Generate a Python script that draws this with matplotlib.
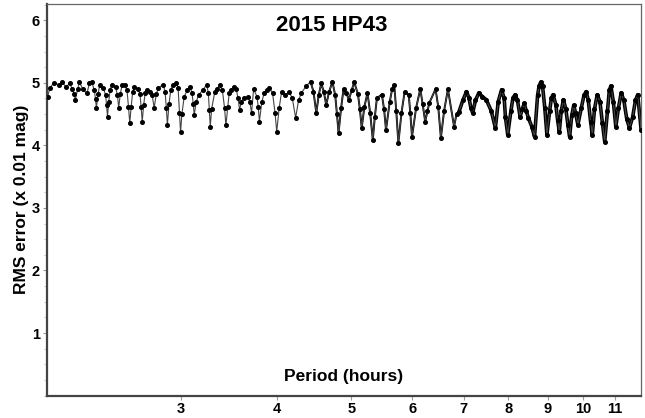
import matplotlib
matplotlib.use('Agg')
import matplotlib.pyplot as plt
from matplotlib.ticker import FixedLocator, NullLocator, MultipleLocator
import numpy as np

# period scan readings (hours, RMS x 0.01 mag) - peaks and dips
period = [2.016, 2.029, 2.054, 2.084, 2.105, 2.131, 2.152, 2.171, 2.190, 2.217,
          2.239, 2.267, 2.284, 2.301, 2.318, 2.332, 2.355, 2.382, 2.411, 2.441,
          2.471, 2.493, 2.518, 2.539, 2.577, 2.613, 2.642, 2.675, 2.711, 2.738,
          2.772, 2.807, 2.848, 2.884, 2.930, 2.963, 3.000, 3.033, 3.086, 3.125,
          3.167, 3.243, 3.279, 3.324, 3.373, 3.436, 3.492, 3.544, 3.579, 3.624,
          3.669, 3.710, 3.733, 3.770, 3.798, 3.854, 3.912, 4.000, 4.059, 4.151,
          4.233, 4.307, 4.426, 4.503, 4.570, 4.638, 4.725, 4.813, 4.885, 4.964,
          5.044, 5.158, 5.248, 5.332, 5.399, 5.479, 5.547, 5.686, 5.756, 5.864,
          5.937, 5.996, 6.146, 6.237, 6.315, 6.433, 6.537, 6.676, 6.800, 6.902,
          7.057, 7.189, 7.323, 7.488, 7.694, 7.838, 7.984, 8.163, 8.285, 8.388,
          8.492, 8.651, 8.813, 8.977, 9.145, 9.316, 9.432, 9.608, 9.727, 9.848,
          10.094, 10.283, 10.436, 10.671, 10.870, 11.032, 11.211, 11.491, 11.778, 11.90]
rms = [4.78, 4.92, 5.00, 4.97, 5.01, 4.93, 4.99, 4.90, 4.73, 5.01,
       4.90, 4.83, 4.99, 5.01, 4.88, 4.60, 4.96, 4.91, 4.46, 4.97,
       4.93, 4.60, 4.96, 4.96, 4.36, 4.93, 4.90, 4.38, 4.89, 4.85,
       4.60, 4.92, 4.97, 4.33, 4.96, 5.00, 4.21, 4.78, 4.93, 4.49,
       4.81, 4.97, 4.30, 4.86, 4.97, 4.32, 4.89, 4.90, 4.57, 4.76,
       4.78, 4.52, 4.90, 4.78, 4.38, 4.84, 4.92, 4.22, 4.86, 4.85,
       4.44, 4.84, 5.02, 4.52, 4.99, 4.65, 5.02, 4.20, 4.90, 4.73,
       5.01, 4.28, 4.84, 4.09, 4.76, 4.81, 4.25, 4.96, 4.04, 4.85,
       4.81, 4.14, 4.90, 4.38, 4.68, 4.90, 4.12, 4.90, 4.30, 4.54,
       4.86, 4.52, 4.84, 4.73, 4.28, 4.89, 4.17, 4.81, 4.46, 4.67,
       4.44, 4.14, 5.01, 4.17, 4.81, 4.22, 4.73, 4.14, 4.64, 4.33,
       4.86, 4.17, 4.81, 4.06, 4.95, 4.30, 4.84, 4.28, 4.81, 4.25]

# extra readings on the flanks of the dips
period_extra = [2.181, 2.205, 2.326, 2.344, 2.398, 2.404, 2.420, 2.430, 2.484, 2.505,
                2.556, 2.567, 2.588, 2.600, 2.657, 2.666, 2.686, 2.699, 2.756, 2.790,
                2.864, 2.875, 2.898, 2.913, 2.978, 2.990, 3.012, 3.060, 3.105, 3.116,
                3.145, 3.205, 3.260, 3.270, 3.292, 3.350, 3.400, 3.422, 3.455, 3.470,
                3.518, 3.562, 3.600, 3.690, 3.785, 3.826, 3.882, 3.950, 3.980, 4.030,
                4.100, 4.190, 4.270, 4.370, 4.465, 4.535, 4.605, 4.680, 4.765, 4.790,
                4.850, 4.925, 5.005, 5.100, 5.130, 5.200, 5.290, 5.365, 5.515, 5.610,
                5.650, 5.720, 5.810, 5.965, 6.070, 6.190, 6.280, 6.485, 6.600,
                6.850, 6.980, 7.110, 7.150, 7.250, 7.400, 7.600, 7.760, 7.900, 7.930,
                8.060, 8.110, 8.220, 8.340, 8.440, 8.580, 8.730, 8.770, 8.860, 8.920,
                9.050, 9.100, 9.220, 9.270, 9.370, 9.500, 9.560, 9.670, 9.780, 9.950,
                10.030, 10.160, 10.230, 10.350, 10.520, 10.600, 10.760, 10.820, 10.950, 11.120,
                11.300, 11.400, 11.600, 11.700]
rms_extra = [4.82, 4.90, 4.74, 4.82, 4.80, 4.64, 4.70, 4.88, 4.80, 4.82,
             4.88, 4.62, 4.62, 4.86, 4.82, 4.62, 4.64, 4.84, 4.80, 4.82,
             4.86, 4.60, 4.66, 4.88, 4.92, 4.52, 4.50, 4.88, 4.84, 4.66,
             4.70, 4.88, 4.84, 4.56, 4.58, 4.90, 4.88, 4.60, 4.62, 4.84,
             4.94, 4.76, 4.70, 4.70, 4.62, 4.70, 4.88, 4.84, 4.52, 4.60,
             4.80, 4.76, 4.72, 4.95, 4.86, 4.80, 4.86, 4.86, 4.80, 4.50,
             4.60, 4.84, 4.88, 4.82, 4.58, 4.62, 4.52, 4.46, 4.58, 4.70,
             4.90, 4.55, 4.52, 4.52, 4.60, 4.66, 4.55, 4.62, 4.55,
             4.50, 4.72, 4.76, 4.60, 4.72, 4.78, 4.55, 4.70, 4.75, 4.45,
             4.55, 4.76, 4.72, 4.58, 4.55, 4.30, 4.80, 4.95, 4.95, 4.60,
             4.55, 4.76, 4.65, 4.40, 4.55, 4.58, 4.32, 4.48, 4.52, 4.60,
             4.80, 4.72, 4.38, 4.58, 4.70, 4.35, 4.55, 4.88, 4.70, 4.60,
             4.72, 4.42, 4.45, 4.72]

xticks = [3, 4, 5, 6, 7, 8, 9, 10, 11]
yticks = [1, 2, 3, 4, 5, 6]

plt.rcParams['font.family'] = ['Liberation Sans Narrow', 'Liberation Sans', 'DejaVu Sans']
plt.rcParams['font.weight'] = 'bold'

fig = plt.figure(figsize=(6.45, 4.18), dpi=100)
ax = fig.add_axes([0.0724, 0.0536, 0.9216, 0.9368])

p = np.array(period + period_extra)
r = np.array(rms + rms_extra)
order = np.argsort(p)
p = p[order]
r = r[order]

ax.plot(p, r, '-', color='#444444', lw=0.8, marker='o', ms=2.6,
        mfc='black', mec='black', zorder=3)
mid = p >= 4.4
ax.plot(p[mid], r[mid], '-', color='black', lw=1.4, zorder=2)
far = p >= 6.9
ax.plot(p[far], r[far], '-', color='black', lw=2.6, zorder=2)

ax.set_xscale('log')
ax.set_xlim(2.01, 11.9)
ax.set_ylim(0, 6.26)
ax.xaxis.set_major_locator(FixedLocator(xticks))
ax.xaxis.set_minor_locator(NullLocator())
ax.set_xticklabels([str(t) for t in xticks])
ax.yaxis.set_major_locator(FixedLocator(yticks))
ax.yaxis.set_minor_locator(MultipleLocator(0.25))

ax.tick_params(axis='x', which='major', direction='out', length=3, color='#999999',
               labelsize=10.5, pad=1.5)
ax.tick_params(axis='y', which='major', direction='out', length=3, color='#999999',
               labelsize=10.5, pad=2)
ax.tick_params(axis='y', which='minor', direction='out', length=2, color='#bbbbbb')

for s in ['left', 'bottom']:
    ax.spines[s].set_linewidth(1.6)
    ax.spines[s].set_color('#444444')
for s in ['top', 'right']:
    ax.spines[s].set_linewidth(0.9)
    ax.spines[s].set_color('#666666')

fig.text(0.515, 0.94, '2015 HP43', ha='center', va='center', fontsize=16, fontweight='bold')
fig.text(0.532, 0.10, 'Period (hours)', ha='center', va='center', fontsize=12.5, fontweight='bold')
fig.text(0.033, 0.524, 'RMS error (x 0.01 mag)', ha='center', va='center', rotation=90,
         fontsize=12.5, fontweight='bold')

fig.savefig('out.png', dpi=100)
